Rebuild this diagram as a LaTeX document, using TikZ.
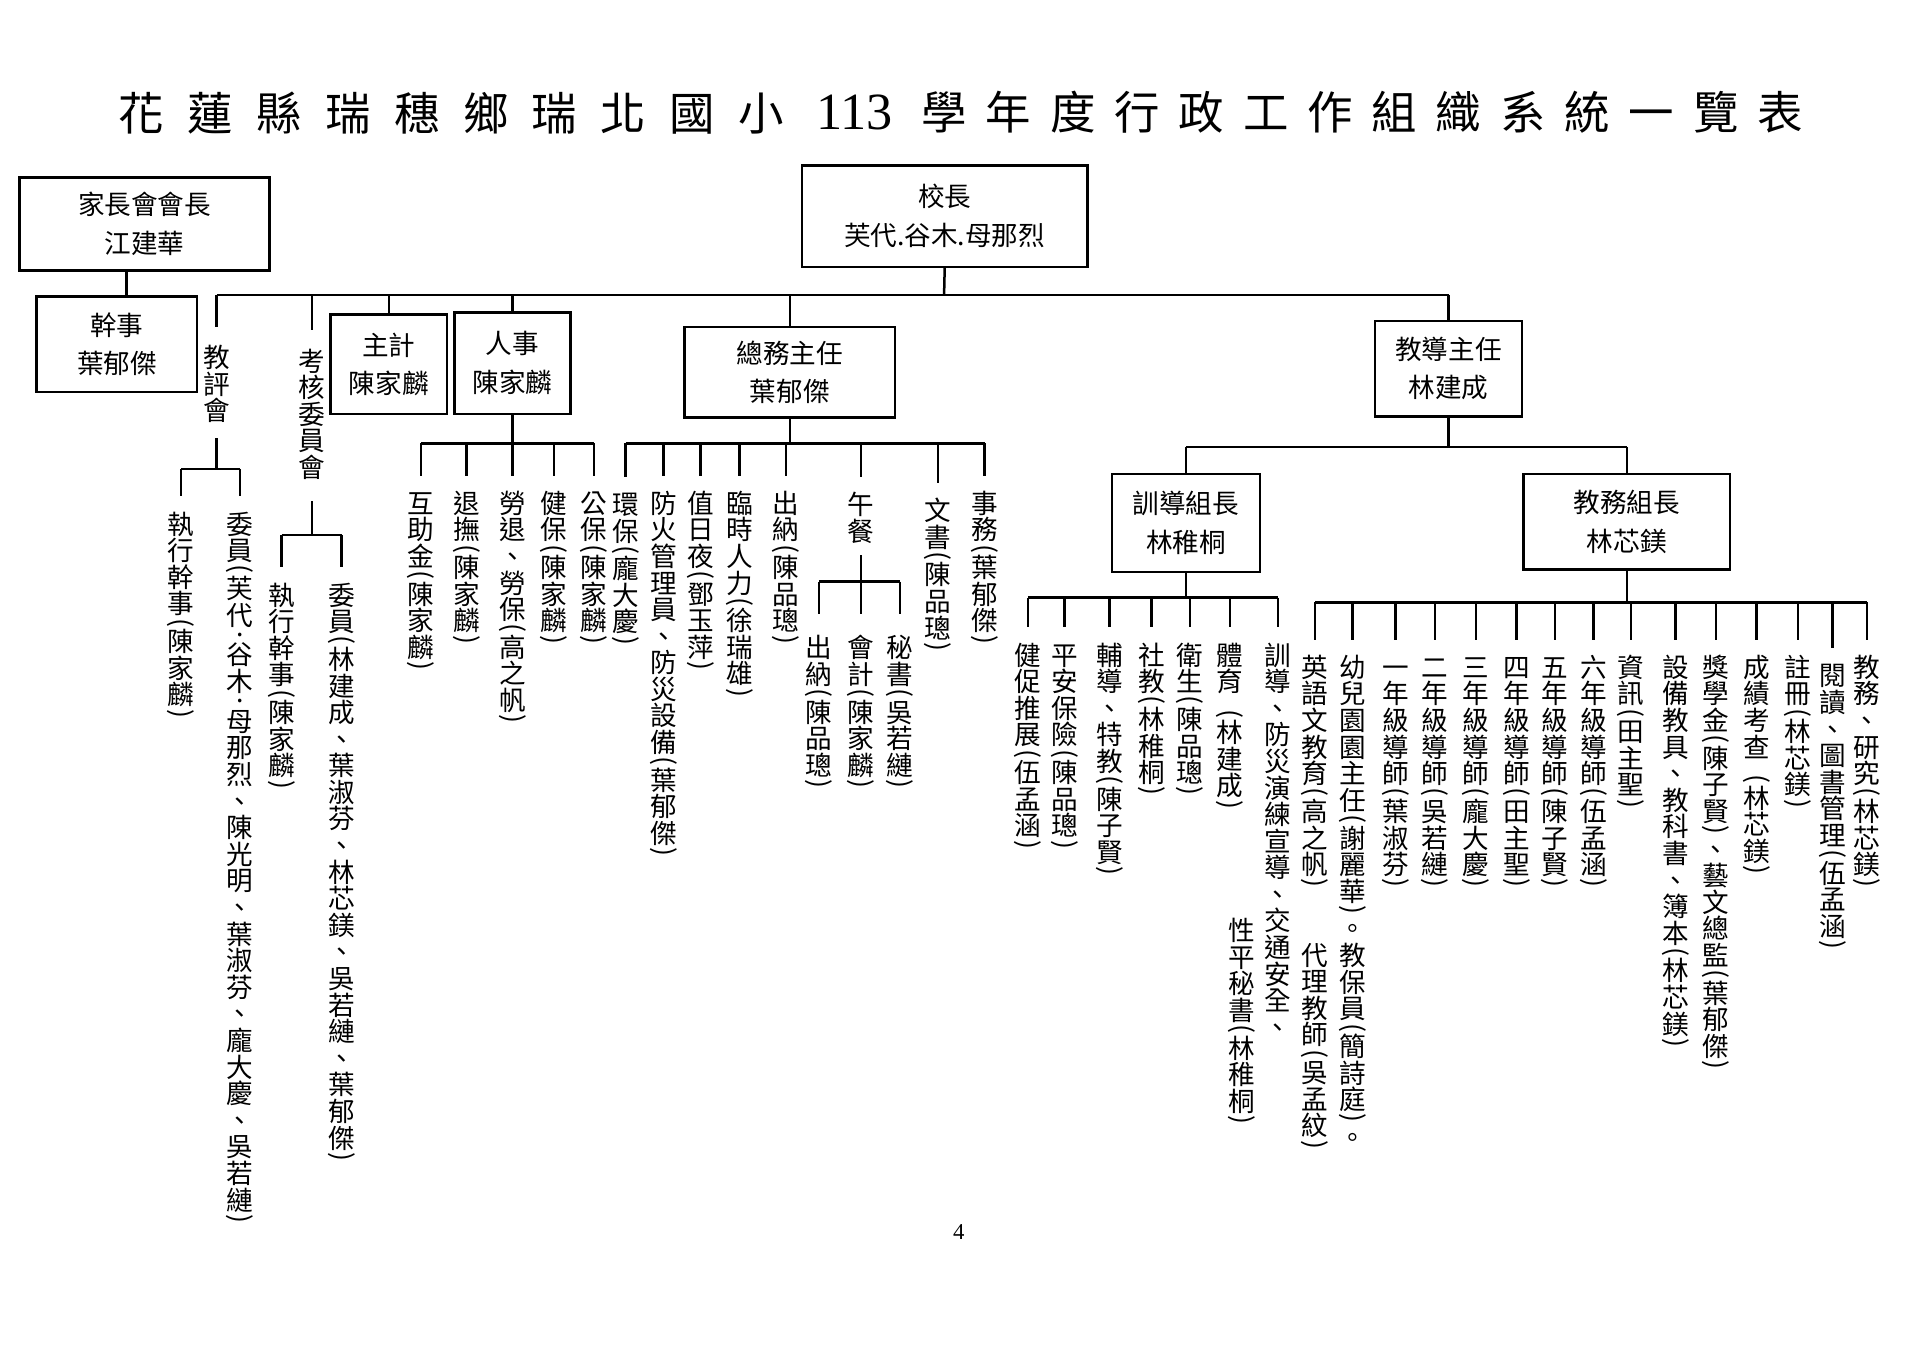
\documentclass[tikz,border=0pt]{standalone}
\usepackage{fontspec}
\usepackage{graphicx}
\newfontfamily\cjk{Noto Sans CJK TC}
\newfontfamily\tms{Liberation Serif}
\newcommand\boxfont{\cjk\fontsize{11.7}{17}\selectfont}
\newcommand\colfont{\cjk\fontsize{11.7}{11.7}\selectfont}
\newcommand\ttlfont{\cjk\fontsize{20}{24}\selectfont}
\newcommand\ttlspread[2]{\def\sprw{#1}\ttlspreadA#2\relax}
\def\ttlspreadA#1{\ifx#1\relax\else\makebox[\sprw]{#1}\expandafter\ttlspreadA\fi}
\newcommand\vstk[1]{\vbox{\offinterlineskip\vstkA#1\relax}}
\def\vstkA#1{\ifx#1\relax\else\vchar#1\expandafter\vstkA\fi}
\def\vchar#1{\ifx#1(\vparen{(}\else\ifx#1)\vparen{)}\else\ifx#1.\vdotcell\else\ifx#1*\kern.5em\else\vcell{#1}\fi\fi\fi\fi}
\def\vcell#1{\hbox to 1em{\hss\vrule height .88em depth .12em width 0pt\relax#1\hss}}
\def\vparen#1{\vbox to .42em{\vss\hbox to 1em{\hss\rotatebox{-90}{#1}\hss}\vss}}
\def\vdotcell{\vbox to .5em{\vss\hbox to 1em{\hss.\hss}\vss}}

\begin{document}
\begin{tikzpicture}[x=0.018941cm, y=-0.018941cm, line width=1.1pt,
  box/.style={draw, align=center, inner sep=0pt, font=\boxfont},
  size/.style 2 args={minimum width=#1*0.018941cm, minimum height=#2*0.018941cm},
  vlab/.style={anchor=north, inner sep=0pt, font=\colfont}]
\useasboundingbox[fill=white] (0,0) rectangle (1568,1109);

\node[font=\ttlfont, inner sep=0pt] (ttlA) at (368.7,92) {\ttlspread{1.0645cm}{花蓮縣瑞穗鄉瑞北國小}};
\node[font=\tms\fontsize{23}{26}\selectfont, inner sep=0pt] (ttlnum) at (698,92) {113};
\node[font=\ttlfont, inner sep=0pt] (ttlB) at (1112.5,92) {\ttlspread{0.9944cm}{學年度行政工作組織系統一覽表}};

\node[box, size={233}{83}] (principal) at (771.5,176.5) {校長\\芙代.谷木.母那烈};
\node[box, size={204}{76}] (pta) at (118,183) {家長會會長\\江建華};
\node[box, size={131}{78}] (ptaclerk) at (95.5,281) {幹事\\葉郁傑};
\node[box, size={95}{81}] (accounting) at (317.5,297.5) {主計\\陳家麟};
\node[box, size={95}{83}] (personnel) at (418.5,296.5) {人事\\陳家麟};
\node[box, size={172}{74}] (general) at (645,304) {總務主任\\葉郁傑};
\node[box, size={120}{78}] (guidance) at (1183,301) {教導主任\\林建成};
\node[box, size={121}{80}] (discipline) at (968.5,427) {訓導組長\\林稚桐};
\node[box, size={169}{78}] (academic) at (1328.5,426) {教務組長\\林芯鎂};

\node[vlab] (review) at (177,280) {\vstk{教評會}};
\node[vlab] (rvexec) at (148,416) {\vstk{執行幹事(陳家麟)}};
\node[vlab] (rvmem) at (196,416) {\vstk{委員(芙代.谷木.母那烈、陳光明、葉淑芬、龐大慶、吳若縺)}};
\node[vlab] (assess) at (255,283) {\vstk{考核委員會}};
\node[vlab] (asexec) at (230,474) {\vstk{執行幹事(陳家麟)}};
\node[vlab] (asmem) at (279,474) {\vstk{委員(林建成、葉淑芬、林芯鎂、吳若縺、葉郁傑)}};

\node[vlab] (mutual) at (344,399) {\vstk{互助金(陳家麟)}};
\node[vlab] (pension) at (381,399) {\vstk{退撫(陳家麟)}};
\node[vlab] (labor) at (418.5,399) {\vstk{勞退、勞保(高之帆)}};
\node[vlab] (health) at (452.5,399) {\vstk{健保(陳家麟)}};
\node[vlab] (civil) at (485,399) {\vstk{公保(陳家麟)}};

\node[vlab] (env) at (511,400) {\vstk{環保(龐大慶)}};
\node[vlab] (fire) at (542,399) {\vstk{防火管理員、防災設備(葉郁傑)}};
\node[vlab] (duty) at (572,399) {\vstk{值日夜(鄧玉萍)}};
\node[vlab] (temp) at (604,399) {\vstk{臨時人力(徐瑞雄)}};
\node[vlab] (cashier) at (642,399) {\vstk{出納(陳品璁)}};
\node[vlab] (lunch) at (703,400) {\vstk{午餐}};
\node[vlab] (lcash) at (669,517) {\vstk{出納(陳品璁)}};
\node[vlab] (lacct) at (703,517) {\vstk{會計(陳家麟)}};
\node[vlab] (lsec) at (735,517) {\vstk{秘書(吳若縺)}};
\node[vlab] (docs) at (766,405) {\vstk{文書(陳品璁)}};
\node[vlab] (affairs) at (804,399) {\vstk{事務(葉郁傑)}};

\node[vlab] (fitness) at (839.5,523) {\vstk{健促推展(伍孟涵)}};
\node[vlab] (safety) at (869.5,523) {\vstk{平安保險(陳品璁)}};
\node[vlab] (counsel) at (906,523) {\vstk{輔導、特教(陳子賢)}};
\node[vlab] (social) at (940.5,523) {\vstk{社教(林稚桐)}};
\node[vlab] (hygiene) at (972,523) {\vstk{衛生(陳品璁)}};
\node[vlab] (sports) at (1004.5,523) {\vstk{體育*(林建成)}};
\node[vlab] (drill) at (1043.5,523) {\vstk{訓導、防災演練宣導、交通安全、}};
\node[vlab] (gender) at (1014,748) {\vstk{性平秘書(林稚桐)}};

\node[vlab] (english) at (1074,533) {\vstk{英語文教育(高之帆)}};
\node[vlab] (subst) at (1074,768) {\vstk{代理教師(吳孟紋)}};
\node[vlab] (kinder) at (1104.5,533) {\vstk{幼兒園園主任(謝麗華)。教保員(簡詩庭)。}};
\node[vlab] (gradeA) at (1139.5,533) {\vstk{一年級導師(葉淑芬)}};
\node[vlab] (gradeB) at (1172,533) {\vstk{二年級導師(吳若縺)}};
\node[vlab] (gradeC) at (1205.5,533) {\vstk{三年級導師(龐大慶)}};
\node[vlab] (gradeD) at (1238.5,533) {\vstk{四年級導師(田主聖)}};
\node[vlab] (gradeE) at (1270,533) {\vstk{五年級導師(陳子賢)}};
\node[vlab] (gradeF) at (1301.5,533) {\vstk{六年級導師(伍孟涵)}};
\node[vlab] (infotech) at (1332,533) {\vstk{資訊(田主聖)}};
\node[vlab] (equip) at (1368.5,533) {\vstk{設備教具、教科書、簿本(林芯鎂)}};
\node[vlab] (award) at (1401.5,533) {\vstk{獎學金(陳子賢)、藝文總監(葉郁傑)}};
\node[vlab] (grades) at (1434.5,533) {\vstk{成績考查*(林芯鎂)}};
\node[vlab] (register) at (1468.5,533) {\vstk{註冊(林芯鎂)}};
\node[vlab] (library) at (1496.5,540) {\vstk{閱讀、圖書管理(伍孟涵)}};
\node[vlab] (research) at (1524.5,533) {\vstk{教務、研究(林芯鎂)}};

\node[font=\tms\fontsize{10}{12}\selectfont] (pageno) at (783,1006) {4};

\coordinate (mainbar) at (771,241);
\coordinate (rvbar) at (177,383);
\coordinate (asbar) at (255,437);
\coordinate (psbar) at (418.5,362);
\coordinate (gnbar) at (645,362);
\coordinate (lnbar) at (703,475);
\coordinate (gdbar) at (1183,365);
\coordinate (dsbar) at (968.5,488);
\coordinate (acbar) at (1328.5,492);
\coordinate (ptalink) at ([xshift=.15cm]ptaclerk.north);

\draw (ptalink) -- (ptalink |- pta.south);
\draw (principal.south) -- (mainbar);
\draw (review.north |- mainbar) -- (guidance.north |- mainbar);
\foreach \n in {accounting,personnel,general,guidance}
  \draw (\n.north |- mainbar) -- (\n.north);
\foreach \n in {review,assess}
  \draw (\n.north |- mainbar) -- ([yshift=.25cm]\n.north);

\draw ([yshift=-.2cm]review.south) -- (rvbar);
\draw (rvexec.north |- rvbar) -- (rvmem.north |- rvbar);
\draw ([yshift=-.3cm]assess.south) -- (asbar);
\draw (asexec.north |- asbar) -- (asmem.north |- asbar);
\foreach \n in {rvexec,rvmem}
  \draw (\n.north |- rvbar) -- ([yshift=.2cm]\n.north);
\foreach \n in {asexec,asmem}
  \draw (\n.north |- asbar) -- ([yshift=.2cm]\n.north);

\draw (personnel.south) -- (personnel.south |- psbar);
\draw (mutual.north |- psbar) -- (civil.north |- psbar);
\foreach \n in {mutual,pension,labor,health,civil}
  \draw (\n.north |- psbar) -- ([yshift=.2cm]\n.north);

\draw (general.south) -- (general.south |- gnbar);
\draw (env.north |- gnbar) -- (affairs.north |- gnbar);
\foreach \n in {env,fire,duty,temp,cashier,lunch,docs,affairs}
  \draw (\n.north |- gnbar) -- ([yshift=.2cm]\n.north);
\draw ([yshift=-.15cm]lunch.south) -- ([yshift=.3cm]lacct.north);
\draw (lcash.north |- lnbar) -- (lsec.north |- lnbar);
\foreach \n in {lcash,lsec}
  \draw (\n.north |- lnbar) -- ([yshift=.3cm]\n.north);

\draw (guidance.south) -- (gdbar);
\draw (discipline.north |- gdbar) -- (academic.north |- gdbar);
\foreach \n in {discipline,academic}
  \draw (\n.north |- gdbar) -- (\n.north);

\draw (discipline.south) -- (discipline.south |- dsbar);
\draw (fitness.north |- dsbar) -- (drill.north |- dsbar);
\foreach \n in {fitness,safety,counsel,social,hygiene,sports,drill}
  \draw (\n.north |- dsbar) -- ([yshift=.2cm]\n.north);

\draw (academic.south) -- (academic.south |- acbar);
\draw (english.north |- acbar) -- (research.north |- acbar);
\foreach \n in {english,kinder,gradeA,gradeB,gradeC,gradeD,gradeE,gradeF,infotech,equip,award,grades,register,library,research}
  \draw (\n.north |- acbar) -- ([yshift=.2cm]\n.north);
\end{tikzpicture}
\end{document}
